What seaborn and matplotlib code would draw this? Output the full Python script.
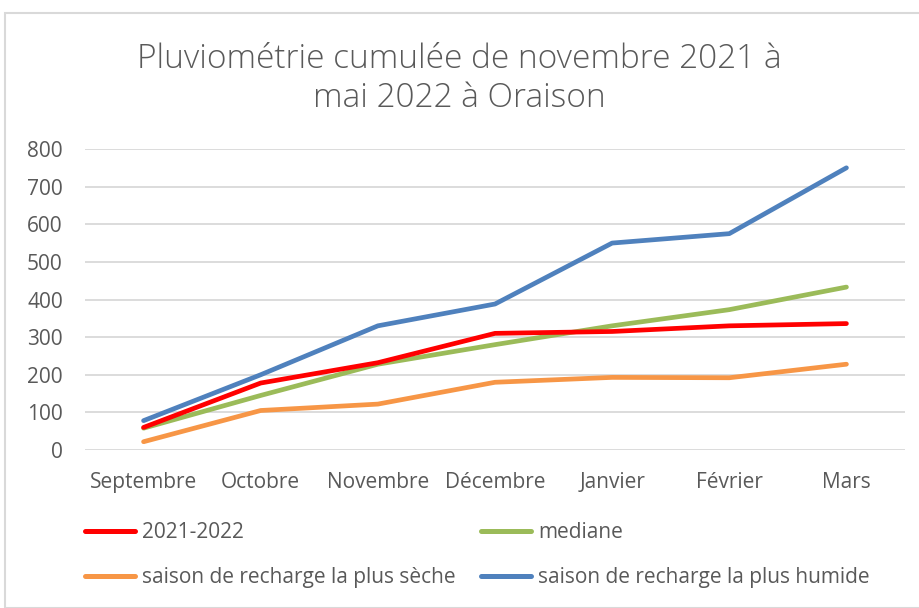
import matplotlib
matplotlib.use("Agg")
import matplotlib.pyplot as plt
import matplotlib.patches as mpatches
from matplotlib.lines import Line2D
import numpy as np
import pandas as pd
import seaborn as sns

mois = ['Septembre', 'Octobre', 'Novembre', 'Décembre', 'Janvier', 'Février', 'Mars']
series_names = ['2021-2022', 'mediane', 'saison de recharge la plus sèche', 'saison de recharge la plus humide']
val_2021 = [60, 178, 232, 310, 315, 330, 336]
val_mediane = [58, 145, 228, 280, 330, 373, 433]
val_seche = [22, 105, 122, 180, 193, 192, 228]
val_humide = [78, 200, 330, 388, 550, 575, 750]
couleurs = ['#ff0000', '#9bbb59', '#f79646', '#4f81bd']

rows = []
for name, vals in zip(series_names, [val_2021, val_mediane, val_seche, val_humide]):
    for i, v in enumerate(vals):
        rows.append({'mois': i, 'serie': name, 'pluie': v})
df = pd.DataFrame(rows)

sns.set_theme(style="white")
plt.rcParams['font.family'] = ['Open Sans', 'DejaVu Sans']

fig = plt.figure(figsize=(9.19, 6.08), dpi=100)
ax = fig.add_axes([85/919, 158/608, 820/919, 301/608])

pal = dict(zip(series_names, couleurs))
# humide drawn last so it stays on top
for name in ['saison de recharge la plus sèche', 'mediane', '2021-2022', 'saison de recharge la plus humide']:
    sub = df[df['serie'] == name]
    sns.lineplot(data=sub, x='mois', y='pluie', color=pal[name], linewidth=3.4,
                 ax=ax, legend=False, solid_capstyle='round', solid_joinstyle='round')

ax.set_xlim(-0.5, 6.5)
ax.set_ylim(0, 800)
ax.set_yticks(range(0, 801, 100))
ax.set_xticks(range(len(mois)))
ax.set_xticklabels(mois)
ax.tick_params(axis='both', labelsize=15, colors='#595959', length=0)
ax.tick_params(axis='x', pad=16)
ax.tick_params(axis='y', pad=16)
ax.set_xlabel('')
ax.set_ylabel('')
ax.yaxis.grid(True, color='#d9d9d9', linewidth=1.3)
for s in ax.spines.values():
    s.set_visible(False)

fig.text(0.5, 0.87, 'Pluviométrie cumulée de novembre 2021 à\nmai 2022 à Oraison',
         ha='center', va='center', fontsize=24, color='#595959',
         linespacing=1.2, fontweight='light')

# legend rows: 2021-2022 / mediane, then sèche / humide
idx = [0, 2, 1, 3]
handles = [Line2D([0], [0], color=couleurs[i], linewidth=3.6) for i in idx]
labels = [series_names[i] for i in idx]
fig.legend(handles, labels, loc='center left', bbox_to_anchor=(85/919, 53/608),
           ncol=2, frameon=False, fontsize=15, handlelength=2.4,
           labelcolor='#595959', handletextpad=0.35, labelspacing=1.15,
           columnspacing=1.2, borderaxespad=0, borderpad=0)

border = mpatches.Rectangle((5/919, 0), 1, 1 - 13/608, transform=fig.transFigure,
                            fill=False, edgecolor='#d9d9d9', linewidth=1.5)
fig.patches.append(border)

fig.savefig('out.png', dpi=100)
